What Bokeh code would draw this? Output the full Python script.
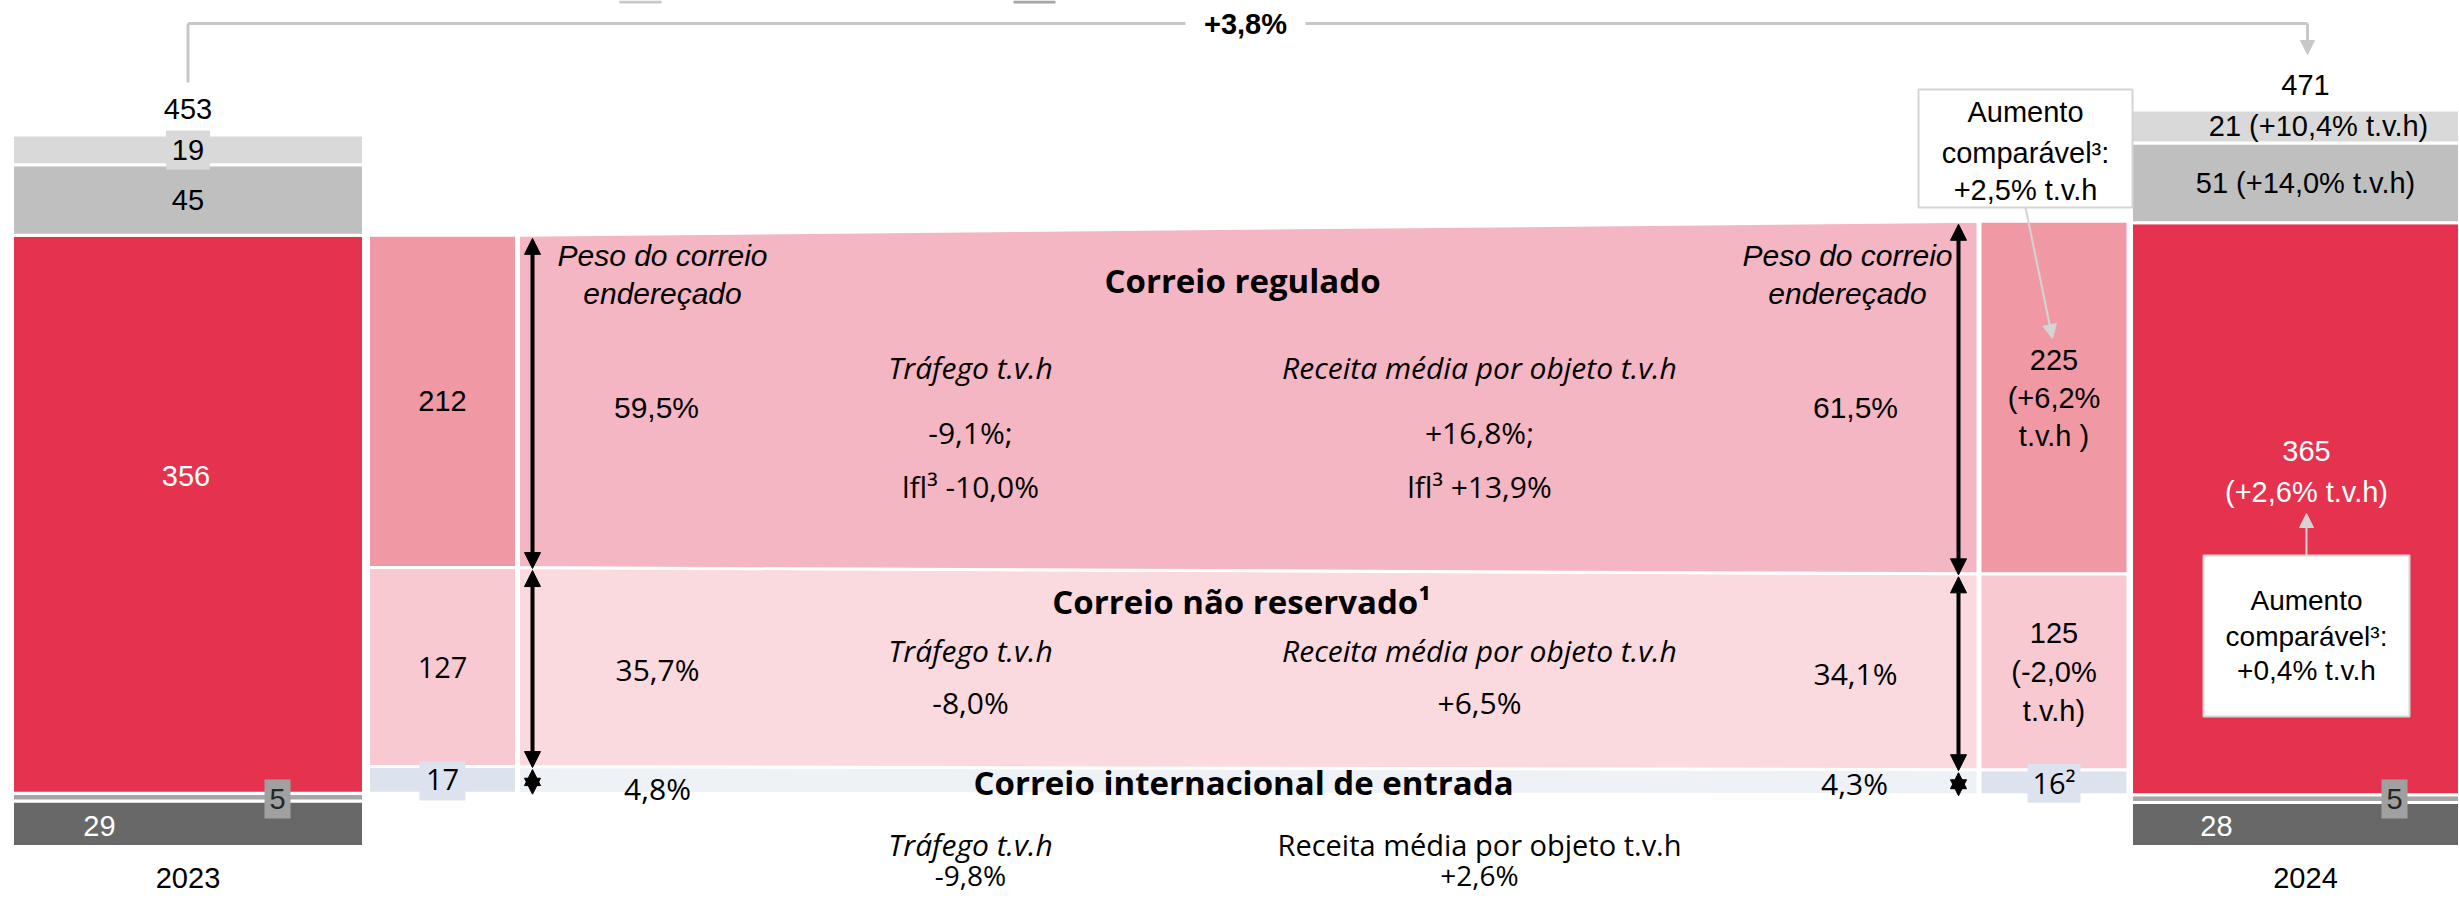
from bokeh.plotting import figure
from bokeh.models import Range1d, Arrow, NormalHead
from bokeh.embed import file_html
from bokeh.resources import INLINE
from bokeh.core.properties import value

# ---------------- data ----------------
years = ["2023", "2024"]
totals = [453, 471]
# stacked segments from bottom to top
seg_dark = [29, 28]        # dark grey bottom
seg_small = [5, 5]         # small grey
seg_mail = [356, 365]      # red: addressed mail
seg_mid = [45, 51]         # mid grey
seg_light = [19, 21]       # light grey top
mail_labels_2024 = ["365", "(+2,6% t.v.h)"]
mid_labels = ["45", "51 (+14,0% t.v.h)"]
light_labels = ["19", "21 (+10,4% t.v.h)"]
total_change = "+3,8%"

# breakdown of addressed mail (bottom to top)
inbound = [17, 16]
non_reserved = [127, 125]
regulated = [212, 225]
inbound_labels = ["17", "16²"]
nonres_labels = [["127"], ["125", "(-2,0%", "t.v.h)"]]
reg_labels = [["212"], ["225", "(+6,2%", "t.v.h )"]]

share_reg = ["59,5%", "61,5%"]
share_nonres = ["35,7%", "34,1%"]
share_inb = ["4,8%", "4,3%"]

traffic = {"reg": ["-9,1%;", "lfl³ -10,0%"], "nonres": ["-8,0%"], "inb": ["-9,8%"]}
revenue = {"reg": ["+16,8%;", "lfl³ +13,9%"], "nonres": ["+6,5%"], "inb": ["+2,6%"]}
lfl_reg = ["Aumento", "comparável³:", "+2,5% t.v.h"]
lfl_mail = ["Aumento", "comparável³:", "+0,4% t.v.h"]

# ---------------- layout ----------------
W, H = 2459, 899
K = 1.567          # px per unit
BASE = 846.0       # page-pixel y of value 0


def yv(px):
    return (BASE - px) / K


bar_x = [187.5, 2305.0]
bar_w = [351.0, 348.0]
mid_x = [442.0, 2053.5]
mid_w = 148.0

C_DARK = "#686868"
C_SMALL = "#a6a6a6"
C_RED = "#e5334f"
C_MID = "#bfbfbf"
C_LIGHT = "#d9d9d9"
C_REG_BAR = "#f098a4"
C_REG_FLOW = "#f4b6c2"
C_NR_BAR = "#f9c9d1"
C_NR_FLOW = "#fadadf"
C_IN_BAR = "#dde3ee"
C_IN_FLOW = "#eef1f6"
C_BRACKET = "#c8c8c8"

ARIAL = "Liberation Sans"
APTOS = "Open Sans"

p = figure(width=W, height=H, output_backend="svg", toolbar_location=None,
           x_range=Range1d(0, W), y_range=Range1d(yv(H), yv(0)),
           min_border=0)
p.axis.visible = False
p.grid.visible = False
p.outline_line_color = None
p.background_fill_color = "white"
p.border_fill_color = "white"


def txt(x, ypx, s, size=29, color="black", font=ARIAL, style="normal", align="center"):
    p.text(x=[x], y=[yv(ypx)], text=[s], text_font=value(font),
           text_font_size=f"{size}px", text_font_style=style, text_align=align,
           text_baseline="middle", text_color=color)


def txt_v(x, yval, s, size=29, color="black", font=ARIAL, style="normal"):
    p.text(x=[x], y=[yval], text=[s], text_font=value(font),
           text_font_size=f"{size}px", text_font_style=style, text_align="center",
           text_baseline="middle", text_color=color)


# legend swatches (texts are cut off at the top of the reference)
p.quad(left=[619, 1013], right=[661, 1055], top=[yv(0), yv(0)], bottom=[yv(3), yv(3)],
       fill_color=["#c8c8c8", "#a6a6a6"], line_color=None)

# ---------------- main stacked bars ----------------
stacks = []
for i in range(2):
    b0 = 0
    segs = []
    for v, c in [(seg_dark[i], C_DARK), (seg_small[i], C_SMALL), (seg_mail[i], C_RED),
                 (seg_mid[i], C_MID), (seg_light[i], C_LIGHT)]:
        segs.append((b0, b0 + v, c))
        b0 += v
    stacks.append(segs)
    p.vbar(x=[bar_x[i]] * 5, width=bar_w[i], bottom=[s[0] for s in segs],
           top=[s[1] for s in segs], fill_color=[s[2] for s in segs],
           line_color="white", line_width=3)

# breakdown bars
mids = []
for i in range(2):
    base = seg_dark[i] + seg_small[i]
    parts = []
    for v, c in [(inbound[i], C_IN_BAR), (non_reserved[i], C_NR_BAR), (regulated[i], C_REG_BAR)]:
        parts.append((base, base + v, c))
        base += v
    mids.append(parts)
    p.vbar(x=[mid_x[i]] * 3, width=mid_w, bottom=[s[0] for s in parts],
           top=[s[1] for s in parts], fill_color=[s[2] for s in parts],
           line_color="white", line_width=3)

# flows
fx0 = mid_x[0] + mid_w / 2 + 2
fx1 = mid_x[1] - mid_w / 2 - 2
for k, c in enumerate([C_IN_FLOW, C_NR_FLOW, C_REG_FLOW]):
    a = mids[0][k]
    b = mids[1][k]
    p.patch(x=[fx0, fx1, fx1, fx0], y=[a[1], b[1], b[0], a[0]],
            fill_color=c, line_color="white", line_width=3)

# ---------------- bar labels ----------------
# 2023
s23 = stacks[0]
p.rect(x=[bar_x[0]], y=[(s23[4][0] + s23[4][1]) / 2], width=44, height=39 / K,
       fill_color=C_LIGHT, line_color=None)
txt_v(bar_x[0], (s23[4][0] + s23[4][1]) / 2, light_labels[0])
txt_v(bar_x[0], (s23[3][0] + s23[3][1]) / 2, mid_labels[0])
txt(bar_x[0] - 2, 475, str(seg_mail[0]), color="white")
txt(99, 825, str(seg_dark[0]), color="white")
txt(bar_x[0], 108, str(totals[0]))
txt(bar_x[0], 877, years[0])

# 2024
s24 = stacks[1]
txt_v(bar_x[1] + 13, (s24[4][0] + s24[4][1]) / 2, light_labels[1])
txt_v(bar_x[1], (s24[3][0] + s24[3][1]) / 2, mid_labels[1])
txt(bar_x[1] + 1, 450, mail_labels_2024[0], color="white")
txt(bar_x[1] + 1, 491, mail_labels_2024[1], color="white")
txt(2216, 825, str(seg_dark[1]), color="white")
txt(bar_x[1], 84, str(totals[1]))
txt(bar_x[1], 877, years[1])

# small "5" boxes
for xx, i in [(277, 0), (2394, 1)]:
    p.rect(x=[xx], y=[yv(798.5)], width=26, height=39 / K, fill_color="#a0a0a0", line_color=None)
    txt(xx, 798, str(seg_small[i]), color="#262626")

# breakdown labels
for i in range(2):
    parts = mids[i]
    # inbound
    ym = (parts[0][0] + parts[0][1]) / 2
    p.rect(x=[mid_x[i]], y=[ym - 1 / K], width=46 if i == 0 else 53, height=39 / K,
           fill_color=C_IN_BAR, line_color=None)
    txt_v(mid_x[i], ym, inbound_labels[i], font=APTOS, size=29)
    # non reserved
    ym = (parts[1][0] + parts[1][1]) / 2
    lines = nonres_labels[i]
    for j, s in enumerate(lines):
        txt_v(mid_x[i], ym + (len(lines) - 1) / 2 * 39 / K - j * 39 / K, s,
              font=APTOS if i == 0 else ARIAL, size=29)
    # regulated
    ym = (parts[2][0] + parts[2][1]) / 2
    lines = reg_labels[i]
    for j, s in enumerate(lines):
        txt_v(mid_x[i], ym + (len(lines) - 1) / 2 * 38 / K - j * 38 / K, s)

# ---------------- bracket ----------------
yb = yv(23)
p.segment(x0=[bar_x[0], bar_x[0], 1305], y0=[yv(82), yb, yb],
          x1=[bar_x[0], 1185, bar_x[1] + 2], y1=[yb, yb, yb],
          line_color=C_BRACKET, line_width=3)
p.add_layout(Arrow(end=NormalHead(size=14, fill_color=C_BRACKET, line_color=C_BRACKET),
                   x_start=bar_x[1] + 2, y_start=yb, x_end=bar_x[1] + 2, y_end=yv(54),
                   line_color=C_BRACKET, line_width=3))
txt(1245, 23, total_change, font=ARIAL, style="bold", size=29)

# ---------------- double arrows ----------------
for ax, parts in [(532, mids[0]), (1958, mids[1])]:
    for (b0, t0, _) in parts:
        p.add_layout(Arrow(start=NormalHead(size=16, fill_color="black", line_color="black"),
                           end=NormalHead(size=16, fill_color="black", line_color="black"),
                           x_start=ax, y_start=b0 - 1 / K, x_end=ax, y_end=t0 - 3 / K,
                           line_color="black", line_width=4))

# ---------------- flow texts ----------------
for cx in [662, 1847]:
    txt(cx, 255, "Peso do correio", style="italic", size=30)
    txt(cx, 293, "endereçado", style="italic", size=30)
txt(656, 407, share_reg[0], size=30)
txt(1855, 407, share_reg[1], size=30)
txt(657, 669, share_nonres[0], font=APTOS, size=30)
txt(1855, 673, share_nonres[1], font=APTOS, size=30)
txt(657, 788, share_inb[0], font=APTOS, size=30)
txt(1854, 783, share_inb[1], font=APTOS, size=30)

txt(1242, 280, "Correio regulado", font=APTOS, style="bold", size=33)
txt(1241, 601, "Correio não reservado¹", font=APTOS, style="bold", size=33)
txt(1243, 782, "Correio internacional de entrada", font=APTOS, style="bold", size=33)

TX, RX = 970, 1479
FS = 30
txt(TX, 367, "Tráfego t.v.h", font=APTOS, style="italic", size=FS)
txt(RX, 367, "Receita média por objeto t.v.h", font=APTOS, style="italic", size=FS)
txt(TX, 432, traffic["reg"][0], font=APTOS, size=FS)
txt(TX, 486, traffic["reg"][1], font=APTOS, size=FS)
txt(RX, 432, revenue["reg"][0], font=APTOS, size=FS)
txt(RX, 486, revenue["reg"][1], font=APTOS, size=FS)

txt(TX, 650, "Tráfego t.v.h", font=APTOS, style="italic", size=FS)
txt(RX, 650, "Receita média por objeto t.v.h", font=APTOS, style="italic", size=FS)
txt(TX, 702, traffic["nonres"][0], font=APTOS, size=FS)
txt(RX, 702, revenue["nonres"][0], font=APTOS, size=FS)

txt(TX, 844, "Tráfego t.v.h", font=APTOS, style="italic", size=FS)
txt(RX, 844, "Receita média por objeto t.v.h", font=APTOS, size=29)
txt(TX, 874, traffic["inb"][0], font=APTOS, size=28)
txt(RX, 874, revenue["inb"][0], font=APTOS, size=28)

# ---------------- callout boxes ----------------
p.quad(left=[1918], right=[2132], top=[yv(89)], bottom=[yv(207)],
       fill_color="white", line_color="#d4d4d4", line_width=2)
for j, s in enumerate(lfl_reg):
    txt(2025, [111, 152, 189][j], s)
p.add_layout(Arrow(end=NormalHead(size=14, fill_color="#d4d4d4", line_color="#d4d4d4"),
                   x_start=2025, y_start=yv(207), x_end=2052, y_end=yv(338),
                   line_color="#d4d4d4", line_width=2))

p.quad(left=[2203], right=[2409], top=[yv(555)], bottom=[yv(716)],
       fill_color="white", line_color="#d4d4d4", line_width=2)
for j, s in enumerate(lfl_mail):
    txt(2306, [600, 636, 670][j], s, size=28)
p.add_layout(Arrow(end=NormalHead(size=14, fill_color="#d4d4d4", line_color="#d4d4d4"),
                   x_start=2306, y_start=yv(555), x_end=2306, y_end=yv(513),
                   line_color="#d4d4d4", line_width=2))

open("out.html", "w").write(file_html(p, INLINE))
